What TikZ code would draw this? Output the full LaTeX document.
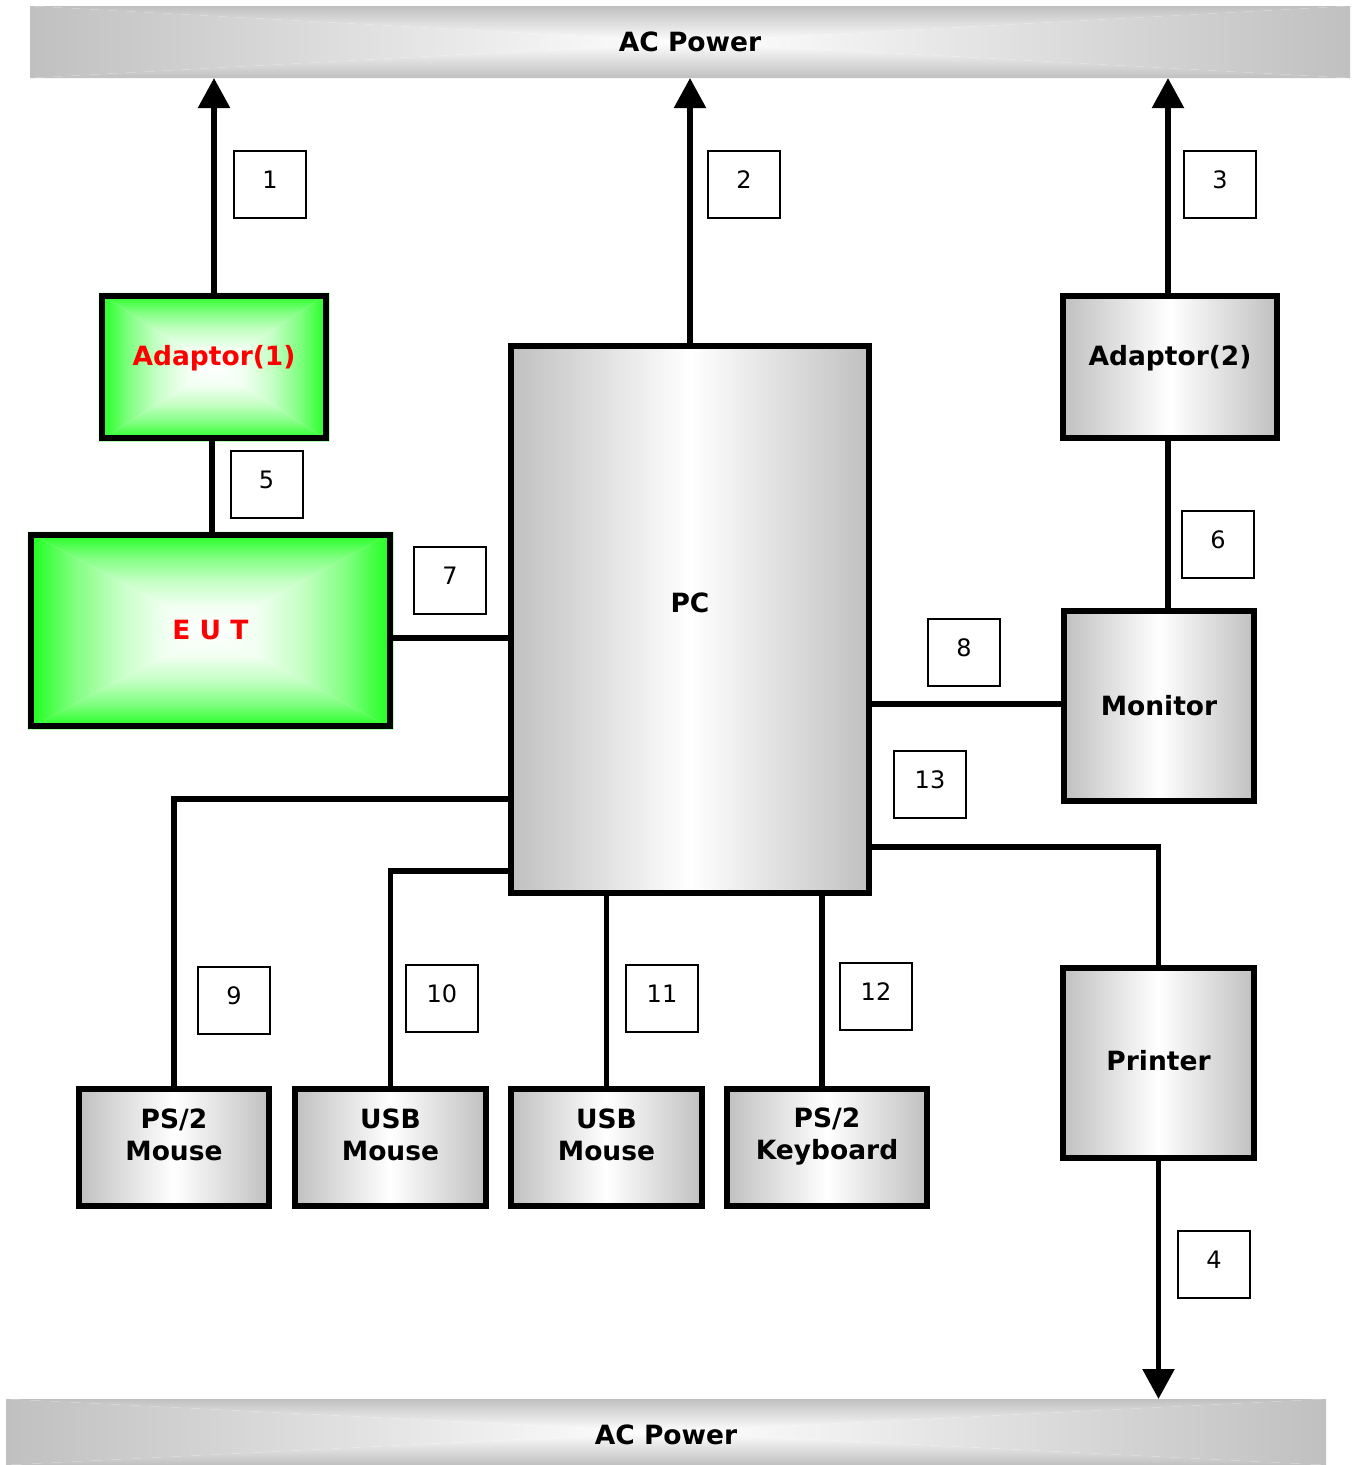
\documentclass[tikz,border=0pt]{standalone}
\usepackage{fontspec}
\setmainfont{DejaVu Sans}
\usetikzlibrary{arrows.meta}
\definecolor{edgegray}{RGB}{192,192,192}
\definecolor{edgegreen}{RGB}{24,255,24}
\pgfdeclarelayer{background}
\pgfsetlayers{background,main}
% green rectangle gradient pieces (edge green, centre white)
\pgfdeclarehorizontalshading{grL}{100bp}{color(0bp)=(edgegreen); color(25bp)=(edgegreen); color(37.5bp)=(edgegreen!56!white); color(50bp)=(edgegreen!25!white); color(62.5bp)=(edgegreen!6!white); color(75bp)=(white); color(100bp)=(white)}
\pgfdeclarehorizontalshading{grR}{100bp}{color(0bp)=(white); color(25bp)=(white); color(37.5bp)=(edgegreen!6!white); color(50bp)=(edgegreen!25!white); color(62.5bp)=(edgegreen!56!white); color(75bp)=(edgegreen); color(100bp)=(edgegreen)}
\pgfdeclareverticalshading{grT}{100bp}{color(0bp)=(white); color(25bp)=(white); color(37.5bp)=(edgegreen!6!white); color(50bp)=(edgegreen!25!white); color(62.5bp)=(edgegreen!56!white); color(75bp)=(edgegreen); color(100bp)=(edgegreen)}
\pgfdeclareverticalshading{grB}{100bp}{color(0bp)=(edgegreen); color(25bp)=(edgegreen); color(37.5bp)=(edgegreen!56!white); color(50bp)=(edgegreen!25!white); color(62.5bp)=(edgegreen!6!white); color(75bp)=(white); color(100bp)=(white)}
% gray rectangle gradient pieces for the power bars
\pgfdeclarehorizontalshading{baL}{100bp}{color(0bp)=(edgegray); color(25bp)=(edgegray); color(75bp)=(white); color(100bp)=(white)}
\pgfdeclarehorizontalshading{baR}{100bp}{color(0bp)=(white); color(25bp)=(white); color(75bp)=(edgegray); color(100bp)=(edgegray)}
\pgfdeclareverticalshading{baT}{100bp}{color(0bp)=(white); color(25bp)=(white); color(75bp)=(edgegray); color(100bp)=(edgegray)}
\pgfdeclareverticalshading{baB}{100bp}{color(0bp)=(edgegray); color(25bp)=(edgegray); color(75bp)=(white); color(100bp)=(white)}
\newcommand{\rectshade}[2]{%
  \begin{pgfonlayer}{background}
    \shade[shading=#2L] (#1.north west) -- (#1.south west) -- (#1.center) -- cycle;
    \shade[shading=#2R] (#1.north east) -- (#1.south east) -- (#1.center) -- cycle;
    \shade[shading=#2T] (#1.north west) -- (#1.north east) -- (#1.center) -- cycle;
    \shade[shading=#2B] (#1.south west) -- (#1.south east) -- (#1.center) -- cycle;
  \end{pgfonlayer}}
\tikzset{
  lbl/.style={font=\bfseries\fontsize{26.5}{32}\selectfont, align=center, inner sep=0pt},
  gbox/.style={draw, line width=6.5pt, left color=edgegray, right color=edgegray, middle color=white, inner sep=0pt},
  grbox/.style={draw, line width=6.5pt, inner sep=0pt},
  bar/.style={inner sep=0pt, outer sep=0pt, minimum width=1320pt},
  numbox/.style={draw, line width=2pt, minimum width=72pt, minimum height=67pt, inner sep=0pt},
  num/.style={font=\fontsize{24}{28}\selectfont, inner sep=0pt},
  conn/.style={line width=5.5pt},
  arr/.style={conn, -{Triangle[width=31pt,length=30pt]}},
}
\begin{document}
\begin{tikzpicture}[x=1pt,y=-1pt]
\useasboundingbox (0,0) rectangle (1355,1465);
% power bars
\node[bar, minimum height=72pt, label={[lbl]center:AC Power}] (top) at (690,42) {};
\node[bar, minimum height=66pt, label={[lbl, yshift=-3pt]center:AC Power}] (bot) at (666,1432) {};
\rectshade{top}{ba}
\rectshade{bot}{ba}
% boxes
\node[grbox, minimum width=224pt, minimum height=142pt, label={[lbl, text=red, yshift=9pt]center:Adaptor(1)}] (a1) at (214,367) {};
\node[grbox, minimum width=359pt, minimum height=191pt, label={[lbl, text=red]center:E U T}] (eut) at (210.5,630.5) {};
\rectshade{a1}{gr}
\rectshade{eut}{gr}
\node[gbox, minimum width=358pt, minimum height=547pt, label={[lbl, yshift=17pt]center:PC}] (pc) at (690,619.5) {};
\node[gbox, minimum width=214pt, minimum height=142pt, label={[lbl, yshift=9pt]center:Adaptor(2)}] (a2) at (1170,367) {};
\node[gbox, minimum width=190pt, minimum height=190pt, label={[lbl]center:Monitor}] (mon) at (1159,706) {};
\node[gbox, minimum width=191pt, minimum height=190pt, label={[lbl, yshift=2pt]center:Printer}] (prn) at (1158.5,1063) {};
\node[gbox, minimum width=190pt, minimum height=117pt, label={[lbl, yshift=13pt]center:PS/2\\Mouse}] (ps2m) at (174,1147.5) {};
\node[gbox, minimum width=191pt, minimum height=117pt, label={[lbl, yshift=13pt]center:USB\\Mouse}] (usb1) at (390.5,1147.5) {};
\node[gbox, minimum width=191pt, minimum height=117pt, label={[lbl, yshift=13pt]center:USB\\Mouse}] (usb2) at (606.5,1147.5) {};
\node[gbox, minimum width=200pt, minimum height=117pt, label={[lbl, yshift=11pt]center:PS/2\\Keyboard}] (kb) at (827,1147.5) {};
% connectors
\draw[arr] (a1.north) -- (a1.north |- top.south);
\draw[arr] (pc.north) -- (pc.north |- top.south);
\coordinate (c3) at (1168,293);
\draw[arr] (c3) -- (c3 |- top.south);
\coordinate (c5) at (212,438);
\draw[conn] (c5) -- (c5 |- eut.north);
\coordinate (c6) at (1168,438);
\draw[conn] (c6) -- (c6 |- mon.north);
\coordinate (c7) at (390,638);
\draw[conn] (c7) -- (c7 -| pc.west);
\coordinate (c8) at (869,704);
\draw[conn] (c8) -- (c8 -| mon.west);
\coordinate (c13) at (869,847);
\draw[conn] (c13) -| (prn.north);
\coordinate (c9) at (511,799);
\draw[conn] (c9) -| (ps2m.north);
\coordinate (c10) at (511,871);
\draw[conn] (c10) -| (usb1.north);
\draw[conn] (usb2.north |- pc.south) -- (usb2.north);
\coordinate (c12) at (822,893);
\draw[conn] (c12) -- (c12 |- kb.north);
\draw[arr] (prn.south) -- (prn.south |- bot.north);
% number boxes
\foreach \n/\x/\y in {1/270/184.5, 2/744/184.5, 3/1220/184.5, 5/266.5/484.5, 6/1218/544.5, 7/450/580.5, 8/964/652.5, 13/930/784.5, 9/234/1000.5, 10/442/998.5, 11/662/998.5, 12/876/996.5, 4/1214/1264.5}
  \node[numbox, label={[num, yshift=5pt]center:\n}] (n\n) at (\x,\y) {};
\end{tikzpicture}
\end{document}
